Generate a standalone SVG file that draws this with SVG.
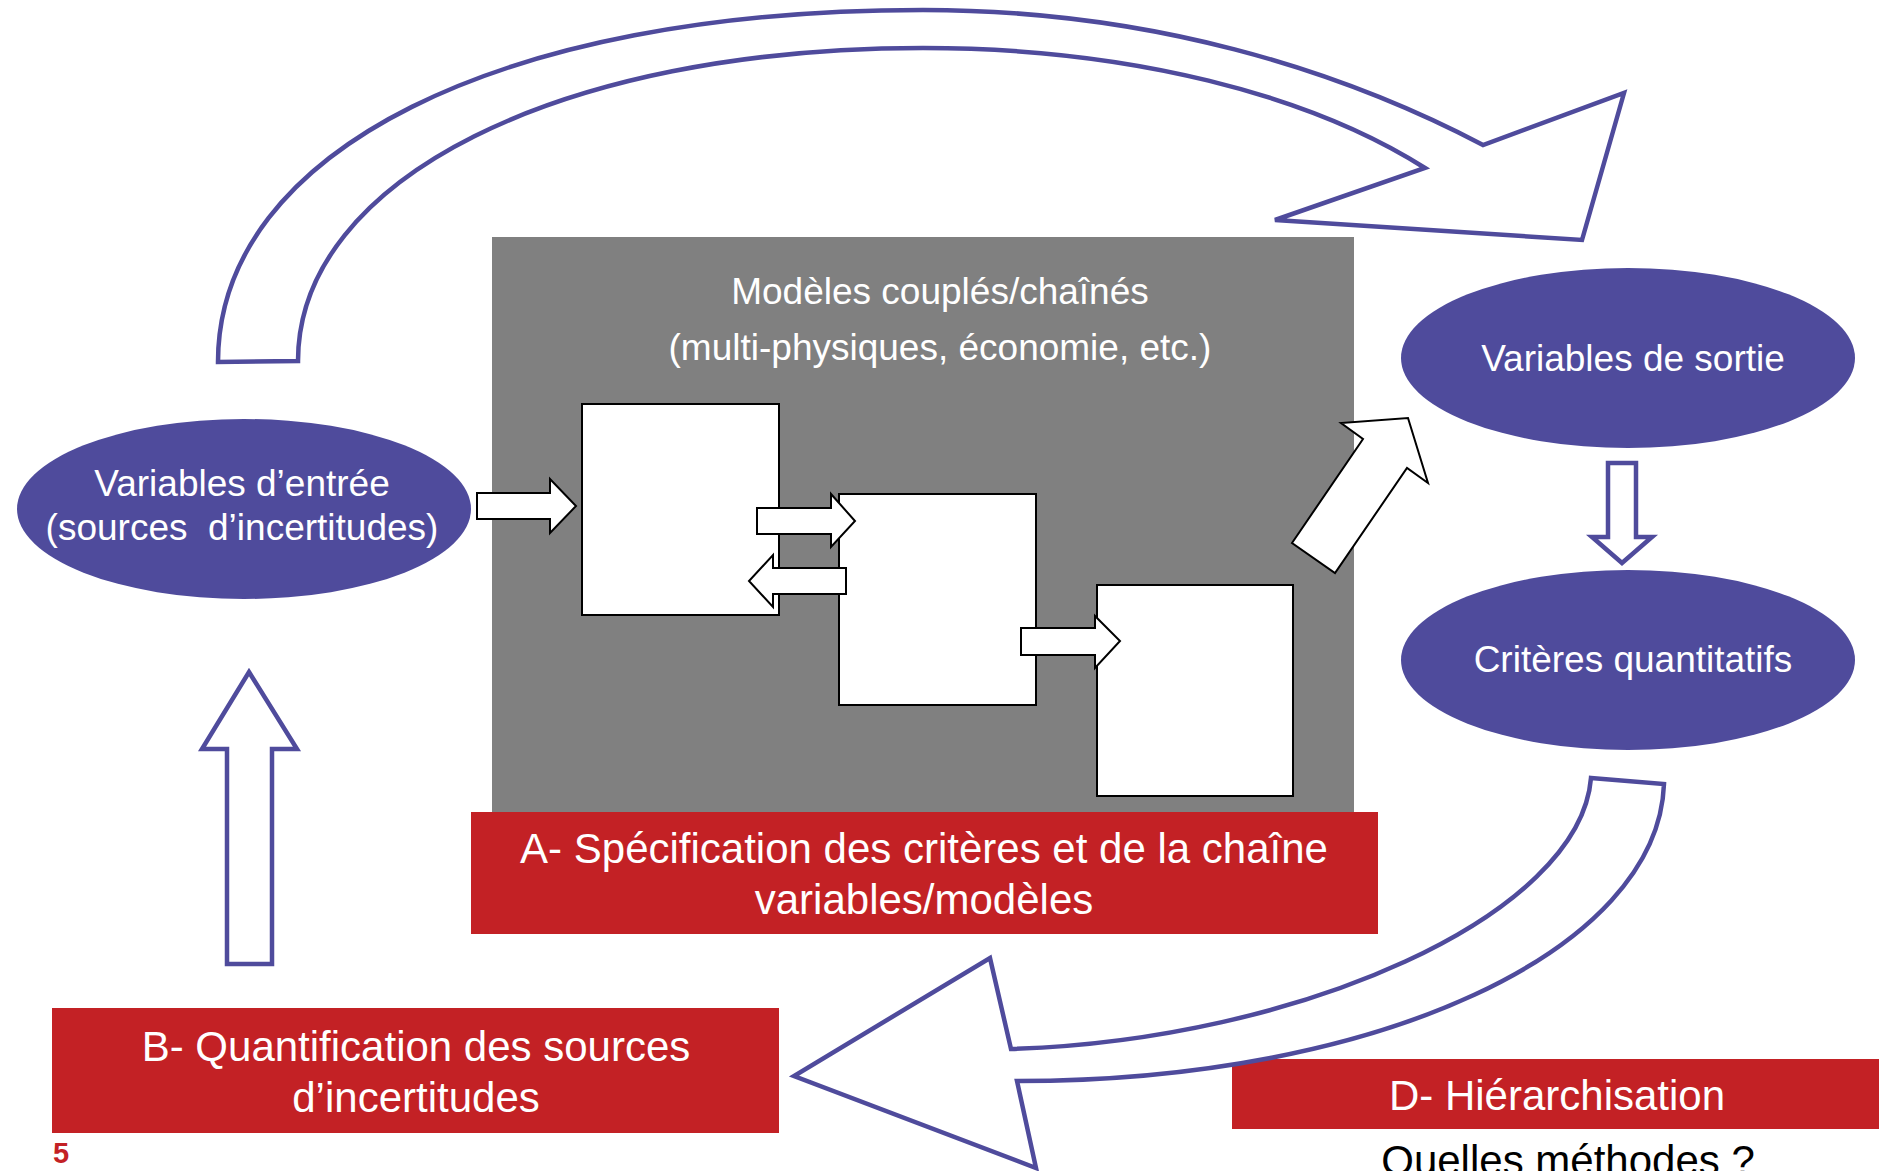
<svg xmlns="http://www.w3.org/2000/svg" width="1879" height="1171" viewBox="0 0 1879 1171">
<style>
.bg{fill:#ffffff}
.ell{fill:#4F4B9C}
.red{fill:#C32125}
.gray{fill:#808080}
.box{fill:#ffffff;stroke:#000000;stroke-width:2}
.big{fill:#ffffff;stroke:#4F4B9C;stroke-width:4.5;stroke-linejoin:miter}
.small{fill:#ffffff;stroke:#000000;stroke-width:2;stroke-linejoin:miter}
text{font-family:"Liberation Sans",Arial,sans-serif;text-anchor:middle}
.wt{fill:#ffffff;font-size:37px}
.rt{fill:#ffffff;font-size:42px}
.bt{fill:#000000;font-size:42px}
</style>
<rect class="bg" x="0" y="0" width="1879" height="1171"/>
<g id="models">
<rect class="gray" x="492" y="237" width="862" height="576"/>
<text class="wt" x="940" y="304">Modèles couplés/chaînés</text>
<text class="wt" x="940" y="360">(multi-physiques, économie, etc.)</text>
</g>
<g id="model1"><rect class="box" x="582" y="404" width="197" height="211"/></g>
<g id="model2"><rect class="box" x="839" y="494" width="197" height="211"/></g>
<g id="model3"><rect class="box" x="1097" y="585" width="196" height="211"/></g>
<g id="input">
<ellipse class="ell" cx="244" cy="509" rx="227" ry="90"/>
<text class="wt" x="242" y="496">Variables d’entrée</text>
<text class="wt" x="242" y="540" xml:space="preserve">(sources  d’incertitudes)</text>
</g>
<g id="output">
<ellipse class="ell" cx="1628" cy="358" rx="227" ry="90"/>
<text class="wt" x="1633" y="371">Variables de sortie</text>
</g>
<g id="criteria">
<ellipse class="ell" cx="1628" cy="660" rx="227" ry="90"/>
<text class="wt" x="1633" y="672">Critères quantitatifs</text>
</g>
<g id="stepA">
<rect class="red" x="471" y="812" width="907" height="122"/>
<text class="rt" x="924" y="863">A- Spécification des critères et de la chaîne</text>
<text class="rt" x="924" y="914">variables/modèles</text>
</g>
<g id="stepB">
<rect class="red" x="52" y="1008" width="727" height="125"/>
<text class="rt" x="416" y="1061">B- Quantification des sources</text>
<text class="rt" x="416" y="1112">d’incertitudes</text>
</g>
<g id="stepD">
<rect class="red" x="1232" y="1059" width="647" height="70"/>
<text class="rt" x="1557" y="1110">D- Hiérarchisation</text>
<text class="bt" x="1568" y="1175">Quelles méthodes ?</text>
</g>
<g id="pagenum">
<text x="61" y="1163" style="fill:#C32125;font-size:29px;font-weight:bold">5</text>
</g>
<g id="connectors">
<path class="big" d="M 218,362 C 218,151 500,10 923,10 C 1150,10 1340,70 1483,145 L 1624,93 L 1582,240 L 1275,220 L 1425,168 C 1310,95 1130,48 923,48 C 560,48 298,179 298,361 Z"/>
<path class="big" d="M 1591,778 L 1664,784 C 1658,950 1380,1081 1017,1081 L 1036,1168 L 794,1076 L 990,958 L 1011,1049 C 1300,1040 1580,915 1591,778 Z"/>
<path class="big" d="M 249,672 L 297,749 L 272,749 L 272,964 L 227,964 L 227,749 L 202,749 Z"/>
<path class="big" d="M 1608,463 L 1636,463 L 1636,537 L 1652,537 L 1622,563 L 1592,537 L 1608,537 Z"/>
<path class="small" d="M 477,493 L 550,493 L 550,479 L 576,506 L 550,533 L 550,519 L 477,519 Z"/>
<path class="small" d="M 757,508 L 831,508 L 831,494 L 855,521 L 831,547 L 831,534 L 757,534 Z"/>
<path class="small" d="M 846,568 L 773,568 L 773,555 L 749,581 L 773,607 L 773,594 L 846,594 Z"/>
<path class="small" d="M 1021,628 L 1095,628 L 1095,616 L 1120,641 L 1095,668 L 1095,655 L 1021,655 Z"/>
<path class="small" d="M 1292,543 L 1363,439 L 1341,423 L 1408,418 L 1428,483 L 1407,468 L 1335,573 Z"/>
</g>
</svg>
